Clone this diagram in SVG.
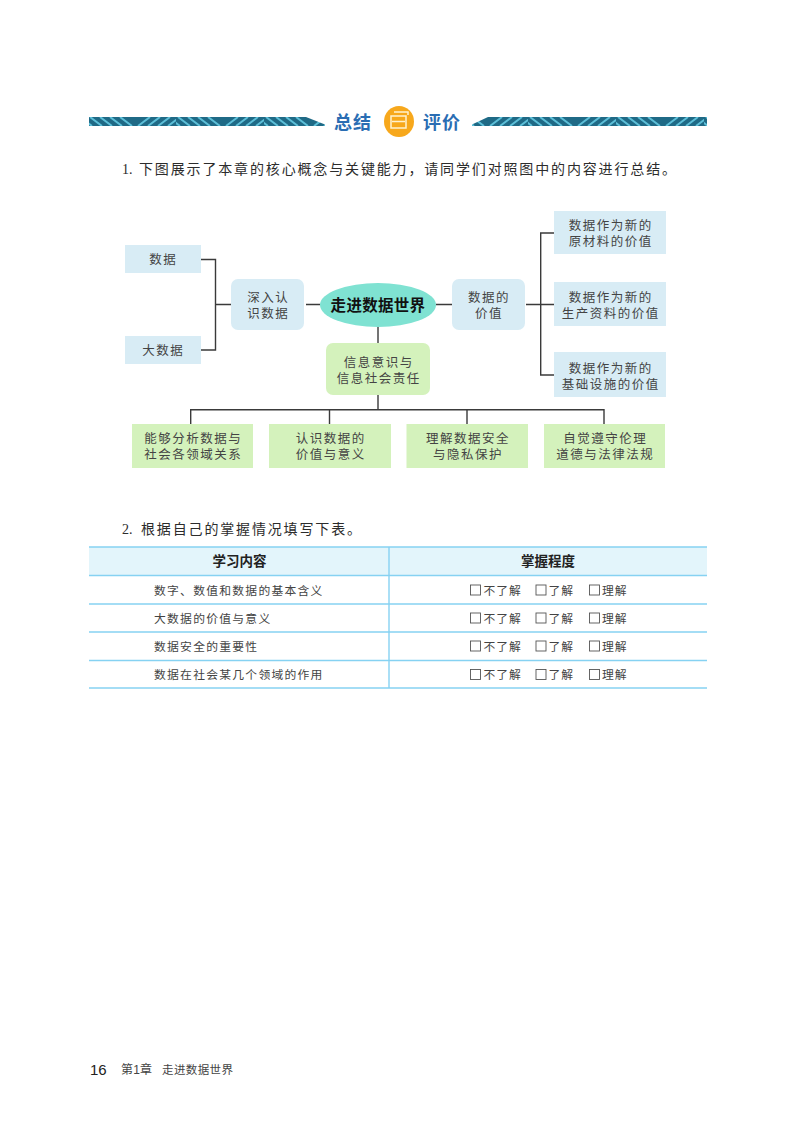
<svg xmlns="http://www.w3.org/2000/svg" width="800" height="1140" viewBox="0 0 800 1140">
<defs>
<style>
text{font-family:"Liberation Sans","Noto Sans CJK SC",sans-serif;fill:#444}
.n{font-size:12.5px;letter-spacing:1.5px;text-anchor:middle}
.blue{fill:#d8ecf5}
.green{fill:#d4f2bc}
.c{fill:none;stroke:#3a3a3a;stroke-width:1.4}
.para{font-size:14px;fill:#2c2c2c}
.cell{font-size:11.8px;letter-spacing:1.25px}
.head{font-size:13.5px;font-weight:700;fill:#222;text-anchor:middle}
.opt{font-size:11.8px;letter-spacing:1px}
.box{fill:none;stroke:#555;stroke-width:.9}
.rule{stroke:#86d2f2;stroke-width:1.4;fill:none}
.title{font-size:18px;font-weight:700;fill:#2a6db3;letter-spacing:1px}
</style>
<pattern id="band" width="88" height="9" patternUnits="userSpaceOnUse" y="117">
<rect width="88" height="9" fill="#1f6a86"/>
<path d="M-8 0l12 9M2 0l12 9M12 0l12 9M22 0l12 9M32 0l12 9" stroke="#5cbfd8" stroke-width="2" fill="none"/>
<path d="M62 0l-12 9M72 0l-12 9M82 0l-12 9M92 0l-12 9M102 0l-12 9" stroke="#5cbfd8" stroke-width="2" fill="none"/>
</pattern>
</defs>
<rect width="800" height="1140" fill="#fff"/>

<g id="section-title">
<path d="M89 117H306L325 124.500V126H89Z" fill="url(#band)"/>
<path d="M707 117H488L472 124.500V126H707Z" fill="url(#band)"/>
<text class="title" x="334" y="128.500">总结</text>
<ellipse cx="399" cy="121.500" rx="15" ry="15.500" fill="#f7a81c"/>
<path d="M391 116h15v12h-15zM394 112h14v3M392 121.500h13" fill="none" stroke="#fff2cf" stroke-width="1.500"/>
<text class="title" x="423" y="128.500">评价</text>
</g>

<g id="question-1">
<text class="para" x="122" y="174" style="font-family:'Liberation Serif',serif">1.</text>
<text class="para" x="139" y="174" textLength="537">下图展示了本章的核心概念与关键能力，请同学们对照图中的内容进行总结。</text>
</g>

<g id="connectors">
<path class="c" d="M201 259.500H215.500V350H201M215.500 304.500H231"/>
<path class="c" d="M306 304.500H320M436 304.500H452"/>
<path class="c" d="M526 304.500H554M554 233H540.700V375H554"/>
<path class="c" d="M378 327V344M378 395V409.700M190.700 424V409.700H604V424M329.500 409.700V424M467 409.700V424"/>
</g>

<g id="node-data"><rect class="blue" x="125" y="245" width="76" height="28"/><text class="n" x="163.200" y="264">数据</text></g>
<g id="node-bigdata"><rect class="blue" x="125" y="336" width="76" height="28"/><text class="n" x="163.200" y="355">大数据</text></g>
<g id="node-deep"><rect class="blue" x="231" y="279" width="73" height="51" rx="7"/><text class="n" x="268.200" y="302">深入认<tspan x="268.200" dy="16">识数据</tspan></text></g>
<g id="node-center"><ellipse cx="378" cy="305" rx="58" ry="22" fill="#7fe2d2"/><text x="378" y="311" font-size="15.500" font-weight="700" letter-spacing=".3" text-anchor="middle" style="fill:#111">走进数据世界</text></g>
<g id="node-value"><rect class="blue" x="452" y="279" width="73" height="51" rx="7"/><text class="n" x="489" y="302">数据的<tspan x="489" dy="16">价值</tspan></text></g>
<g id="node-raw"><rect class="blue" x="554" y="211" width="112" height="43"/><text class="n" x="610.700" y="230">数据作为新的<tspan x="610.700" dy="16">原材料的价值</tspan></text></g>
<g id="node-production"><rect class="blue" x="554" y="282" width="112" height="44"/><text class="n" x="610.700" y="302">数据作为新的<tspan x="610.700" dy="16">生产资料的价值</tspan></text></g>
<g id="node-infrastructure"><rect class="blue" x="554" y="352" width="112" height="45"/><text class="n" x="610.700" y="373">数据作为新的<tspan x="610.700" dy="15.500">基础设施的价值</tspan></text></g>
<g id="node-info"><rect class="green" x="326" y="343" width="104" height="52" rx="7"/><text class="n" x="378.700" y="367">信息意识与<tspan x="378.700" dy="16">信息社会责任</tspan></text></g>
<g id="node-analyse"><rect class="green" x="132" y="424" width="121" height="44"/><text class="n" x="193.200" y="443">能够分析数据与<tspan x="193.200" dy="16">社会各领域关系</tspan></text></g>
<g id="node-meaning"><rect class="green" x="269" y="424" width="122" height="44"/><text class="n" x="330.700" y="443">认识数据的<tspan x="330.700" dy="16">价值与意义</tspan></text></g>
<g id="node-privacy"><rect class="green" x="406.500" y="424" width="121.500" height="44"/><text class="n" x="468" y="443">理解数据安全<tspan x="468" dy="16">与隐私保护</tspan></text></g>
<g id="node-ethics"><rect class="green" x="544" y="424" width="121" height="44"/><text class="n" x="605.200" y="443">自觉遵守伦理<tspan x="605.200" dy="16">道德与法律法规</tspan></text></g>

<g id="question-2">
<text class="para" x="122" y="534" style="font-family:'Liberation Serif',serif">2.</text>
<text class="para" x="141" y="534" textLength="220">根据自己的掌握情况填写下表。</text>
</g>

<g id="table">
<rect x="89" y="547" width="618" height="28" fill="#e3f5fb"/>
<path class="rule" d="M89 547H707"/>
<path class="rule" d="M89 575.500H707M89 604H707M89 632H707M89 660.500H707M89 688H707"/>
<path class="rule" d="M389 547V688" stroke-width="1"/>
<text class="head" x="239.500" y="566">学习内容</text>
<text class="head" x="548" y="566">掌握程度</text>
<text class="cell" x="154" y="594.500">数字、数值和数据的基本含义</text>
<text class="cell" x="154" y="622.500">大数据的价值与意义</text>
<text class="cell" x="154" y="650.500">数据安全的重要性</text>
<text class="cell" x="154" y="679">数据在社会某几个领域的作用</text>
<g id="row-1"><rect class="box" x="470.500" y="585" width="10" height="10"/><text class="opt" x="483.500" y="594.500">不了解</text><rect class="box" x="536" y="585" width="10" height="10"/><text class="opt" x="548.500" y="594.500">了解</text><rect class="box" x="589.500" y="585" width="10" height="10"/><text class="opt" x="602" y="594.500">理解</text></g>
<g id="row-2"><rect class="box" x="470.500" y="613" width="10" height="10"/><text class="opt" x="483.500" y="622.500">不了解</text><rect class="box" x="536" y="613" width="10" height="10"/><text class="opt" x="548.500" y="622.500">了解</text><rect class="box" x="589.500" y="613" width="10" height="10"/><text class="opt" x="602" y="622.500">理解</text></g>
<g id="row-3"><rect class="box" x="470.500" y="641" width="10" height="10"/><text class="opt" x="483.500" y="650.500">不了解</text><rect class="box" x="536" y="641" width="10" height="10"/><text class="opt" x="548.500" y="650.500">了解</text><rect class="box" x="589.500" y="641" width="10" height="10"/><text class="opt" x="602" y="650.500">理解</text></g>
<g id="row-4"><rect class="box" x="470.500" y="669.500" width="10" height="10"/><text class="opt" x="483.500" y="679">不了解</text><rect class="box" x="536" y="669.500" width="10" height="10"/><text class="opt" x="548.500" y="679">了解</text><rect class="box" x="589.500" y="669.500" width="10" height="10"/><text class="opt" x="602" y="679">理解</text></g>
</g>

<g id="footer">
<text x="90" y="1075" font-size="15" style="fill:#222">16</text>
<text x="121" y="1074" font-size="12" textLength="31">第1章</text>
<text x="162" y="1074" font-size="11.500" textLength="71">走进数据世界</text>
</g>
</svg>
